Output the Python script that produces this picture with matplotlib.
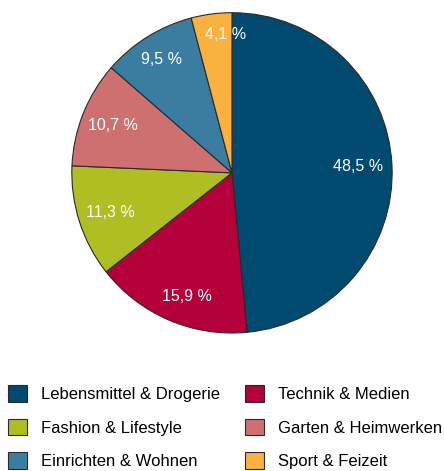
import numpy as np
import matplotlib.pyplot as plt
from matplotlib.patches import Patch

plt.rcParams['font.family'] = ['Liberation Sans Narrow', 'Liberation Sans', 'DejaVu Sans']

categories = ['Lebensmittel & Drogerie', 'Technik & Medien', 'Fashion & Lifestyle',
              'Garten & Heimwerken', 'Einrichten & Wohnen', 'Sport & Feizeit']
shares = [48.5, 15.9, 11.3, 10.7, 9.5, 4.1]
colors = ['#00496F', '#B4003A', '#AFBE22', '#CE706F', '#3A7DA1', '#FBB140']
label_radius = [0.79, 0.84, 0.80, 0.80, 0.83, 0.87]
label_shift = [0.0, 0.05, 0.0, 0.0, 0.0, 0.07]

fig = plt.figure(figsize=(4.44, 4.71), dpi=100)
ax = fig.add_axes([0.160, 0.291, 0.725, 0.684])

wedges, _ = ax.pie(shares, colors=colors, startangle=90, counterclock=False,
                   wedgeprops=dict(edgecolor='#2a2a2a', linewidth=0.8))
ax.set_xlim(-1.005, 1.005)
ax.set_ylim(-1.005, 1.005)
ax.set_aspect('equal')

for w, v, r, dx in zip(wedges, shares, label_radius, label_shift):
    mid = np.deg2rad((w.theta1 + w.theta2) / 2)
    x, y = r * np.cos(mid) + dx, r * np.sin(mid)
    ax.text(x, y, f'{v:.1f} %'.replace('.', ','), ha='center', va='center',
            color='white', fontsize=11.5)

# legend in two columns, filled column by column
order = [0, 2, 4, 1, 3, 5]
handles = [Patch(facecolor=colors[i], edgecolor='#2a2a2a', linewidth=0.8) for i in order]
labels = [categories[i] for i in order]
fig.legend(handles, labels, ncol=2, loc='upper left', bbox_to_anchor=(0.002, 0.196),
           frameon=False, fontsize=12, handlelength=1.14, handleheight=1.14,
           handletextpad=0.84, columnspacing=1.55, labelspacing=1.0,
           borderaxespad=0.0)

fig.savefig('out.png', dpi=100)
